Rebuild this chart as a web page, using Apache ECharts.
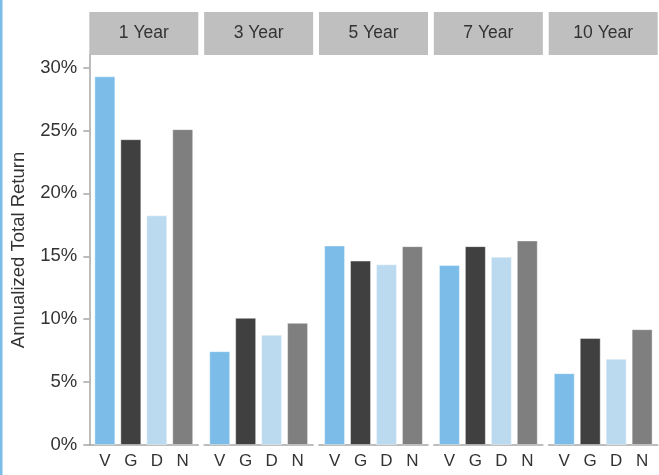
<!DOCTYPE html>
<html>
<head>
<meta charset="utf-8">
<script src="https://cdn.jsdelivr.net/npm/echarts@6/dist/echarts.min.js"></script>
<style>
  html, body { margin: 0; padding: 0; background: #fff; }
  #chart { width: 659px; height: 475px; }
</style>
</head>
<body>
<div id="chart"></div>
<script>
// Horizon labels for the facet strips
const periods = ['1 Year', '3 Year', '5 Year', '7 Year', '10 Year'];
// Fund codes along each panel's x axis
const funds = ['V', 'G', 'D', 'N'];
// Annualized total return (%) per fund, one value per horizon
const fundV = [29.3, 7.45, 15.85, 14.3, 5.7];
const fundG = [24.3, 10.1, 14.65, 15.8, 8.5];
const fundD = [18.25, 8.75, 14.35, 14.95, 6.85];
const fundN = [25.1, 9.7, 15.8, 16.25, 9.2];
// Y-axis tick values (%)
const yTicks = [0, 5, 10, 15, 20, 25, 30];

const fundValues = [fundV, fundG, fundD, fundN];
const fundColors = ['#7bbde8', '#404040', '#bbdaf0', '#7f7f7f'];

const FONT = '"Liberation Sans", Arial, sans-serif';
const TEXT = '#333333';
const AXIS = '#a6a6a6';

// Panel geometry
const panelLeft0 = 89.3;
const panelStep = 114.85;
const panelWidth = 109;
const panelTop = 55;
const panelBottom = 30;
const stripTop = 12;

const grids = [], xAxes = [], yAxes = [], series = [], graphics = [];

periods.forEach(function (p, i) {
  const left = panelLeft0 + i * panelStep;
  grids.push({ left: left, width: panelWidth, top: panelTop, bottom: panelBottom, containLabel: false });

  xAxes.push({
    type: 'value', gridIndex: i, min: 0.4, max: 4.6,
    axisLine: { show: true, onZero: false, lineStyle: { color: AXIS, width: 1.5 } },
    axisTick: { show: false },
    splitLine: { show: false },
    axisLabel: {
      customValues: [1, 2, 3, 4],
      formatter: function (v) { return funds[Math.round(v) - 1] || ''; },
      color: TEXT, fontFamily: FONT, fontSize: 17, margin: 8
    }
  });

  const first = i === 0;
  yAxes.push({
    type: 'value', gridIndex: i, min: 0, max: 31,
    name: first ? 'Annualized Total Return' : '',
    nameLocation: 'middle', nameGap: 61, nameRotate: 90,
    nameTextStyle: { color: TEXT, fontFamily: FONT, fontSize: 18.5 },
    axisLine: { show: first, lineStyle: { color: AXIS, width: 1.5 } },
    axisTick: { show: first, length: 6, customValues: yTicks, lineStyle: { color: AXIS, width: 1.5 } },
    splitLine: { show: false },
    axisLabel: {
      show: first, customValues: yTicks,
      formatter: function (v) { return v + '%'; },
      color: TEXT, fontFamily: FONT, fontSize: 18.5, margin: 12
    }
  });

  series.push({
    type: 'bar', xAxisIndex: i, yAxisIndex: i,
    barWidth: '80%',
    data: funds.map(function (f, k) {
      return {
        value: [k + 1, fundValues[k][i]],
        itemStyle: { color: fundColors[k], borderColor: 'rgba(255,255,255,0.5)', borderWidth: 0.8 }
      };
    })
  });

  // facet strip
  graphics.push({
    type: 'rect', left: left, top: stripTop,
    shape: { width: panelWidth, height: panelTop - stripTop },
    style: { fill: '#bfbfbf' }
  });
  graphics.push({
    type: 'text', x: left + panelWidth / 2, y: (stripTop + panelTop) / 2,
    style: { text: p, fill: TEXT, font: '17.5px ' + FONT, align: 'center', verticalAlign: 'middle' }
  });
});

// accent rule along the left edge
graphics.push({ type: 'rect', left: 0, top: 0, shape: { width: 2.5, height: 475 }, style: { fill: '#7bbde8' } });

const chart = echarts.init(document.getElementById('chart'));
chart.setOption({
  animation: false,
  backgroundColor: '#ffffff',
  grid: grids,
  xAxis: xAxes,
  yAxis: yAxes,
  series: series,
  graphic: graphics
});
</script>
</body>
</html>
